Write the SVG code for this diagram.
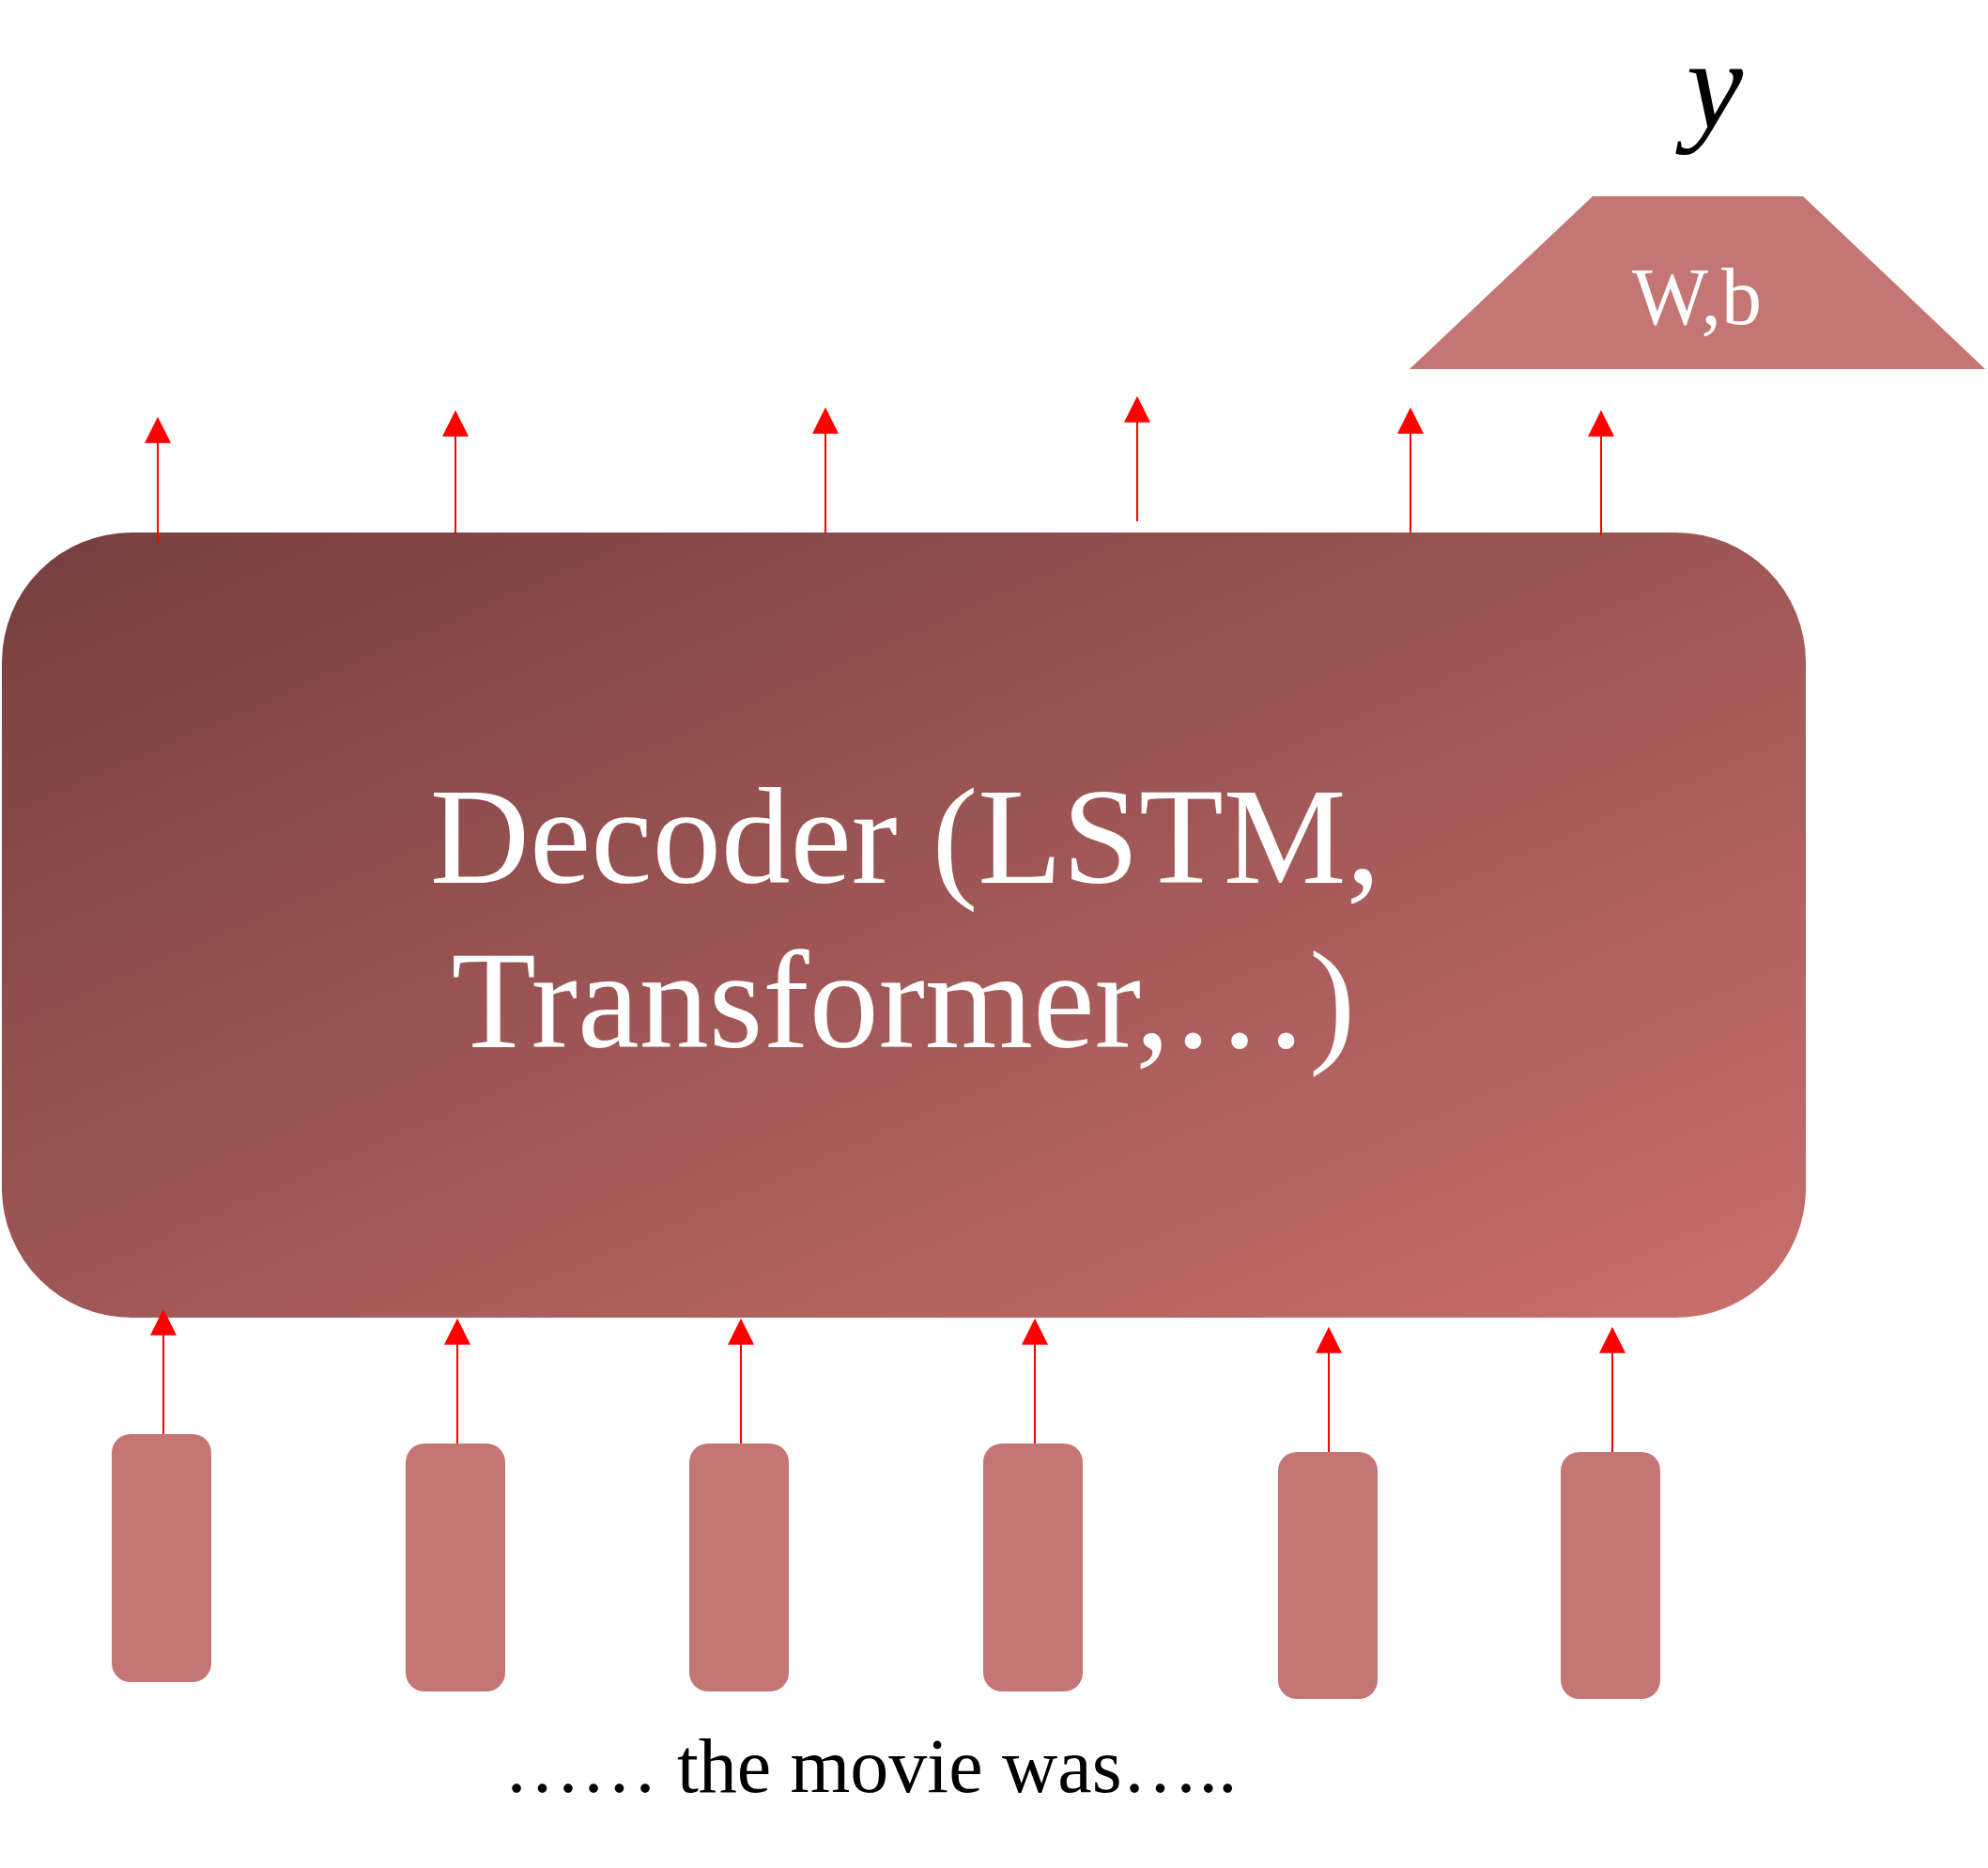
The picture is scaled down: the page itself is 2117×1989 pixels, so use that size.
<svg xmlns="http://www.w3.org/2000/svg" width="2117" height="1989" viewBox="0 0 2117 1989">
  <defs>
    <linearGradient id="decGrad" x1="0" y1="0" x2="1" y2="1">
      <stop offset="0" stop-color="#763F3F"/>
      <stop offset="1" stop-color="#C86F6D"/>
    </linearGradient>
    <marker id="head" markerUnits="userSpaceOnUse" markerWidth="28" markerHeight="28" viewBox="0 0 27 27" refX="21" refY="13.5" orient="auto">
      <path d="M0,0 L27,13.5 L0,27 z" fill="#FF0000"/>
    </marker>
    <style>
      .token { fill: #C47674; }
      .arrow { stroke: #FF0000; stroke-width: 2; fill: none; marker-end: url(#head); }
      .serif { font-family: "Liberation Serif", "Times New Roman", serif; }
      .white { fill: #FFFFFF; }
    </style>
  </defs>
  <rect width="2117" height="1989" fill="#FFFFFF"/>

  <g id="decoder">
    <rect x="2" y="567" width="1921" height="836" rx="138" ry="138" fill="url(#decGrad)"/>
    <text class="serif white" x="964" y="940" font-size="147" text-anchor="middle">Decoder (LSTM,</text>
    <text class="serif white" x="962" y="1115" font-size="148" text-anchor="middle">Transformer,…)</text>
  </g>

  <g id="classifier">
    <polygon class="token" points="1696,209 1920,209 2114,393 1501,393"/>
    <text class="serif white" x="1807" y="345" font-size="86" text-anchor="middle">W,b</text>
  </g>

  <g id="output-y">
    <text class="serif" x="1826" y="136" font-size="136" font-style="italic" text-anchor="middle" fill="#000000">y</text>
  </g>

  <g id="token1"><rect class="token" x="119" y="1527" width="106" height="264" rx="20" ry="20"/></g>
  <g id="token2"><rect class="token" x="432" y="1537" width="106" height="264" rx="20" ry="20"/></g>
  <g id="token3"><rect class="token" x="734" y="1537" width="106" height="264" rx="20" ry="20"/></g>
  <g id="token4"><rect class="token" x="1047" y="1537" width="106" height="264" rx="20" ry="20"/></g>
  <g id="token5"><rect class="token" x="1361" y="1546" width="106" height="263" rx="20" ry="20"/></g>
  <g id="token6"><rect class="token" x="1662" y="1546" width="106" height="263" rx="20" ry="20"/></g>

  <g id="input-text">
    <text class="serif" x="927" y="1908" font-size="82" text-anchor="middle" fill="#000000">…… the movie was…..</text>
  </g>

  <g id="connectors">
    <line class="arrow" x1="168" y1="577" x2="168" y2="450"/>
    <line class="arrow" x1="485" y1="569" x2="485" y2="443"/>
    <line class="arrow" x1="879" y1="567" x2="879" y2="440"/>
    <line class="arrow" x1="1211" y1="555" x2="1211" y2="428"/>
    <line class="arrow" x1="1502" y1="567" x2="1502" y2="440"/>
    <line class="arrow" x1="1705" y1="570" x2="1705" y2="443"/>

    <line class="arrow" x1="174" y1="1527" x2="174" y2="1400"/>
    <line class="arrow" x1="487" y1="1537" x2="487" y2="1410"/>
    <line class="arrow" x1="789" y1="1537" x2="789" y2="1410"/>
    <line class="arrow" x1="1102" y1="1537" x2="1102" y2="1410"/>
    <line class="arrow" x1="1415" y1="1546" x2="1415" y2="1419"/>
    <line class="arrow" x1="1717" y1="1546" x2="1717" y2="1419"/>
  </g>
</svg>
